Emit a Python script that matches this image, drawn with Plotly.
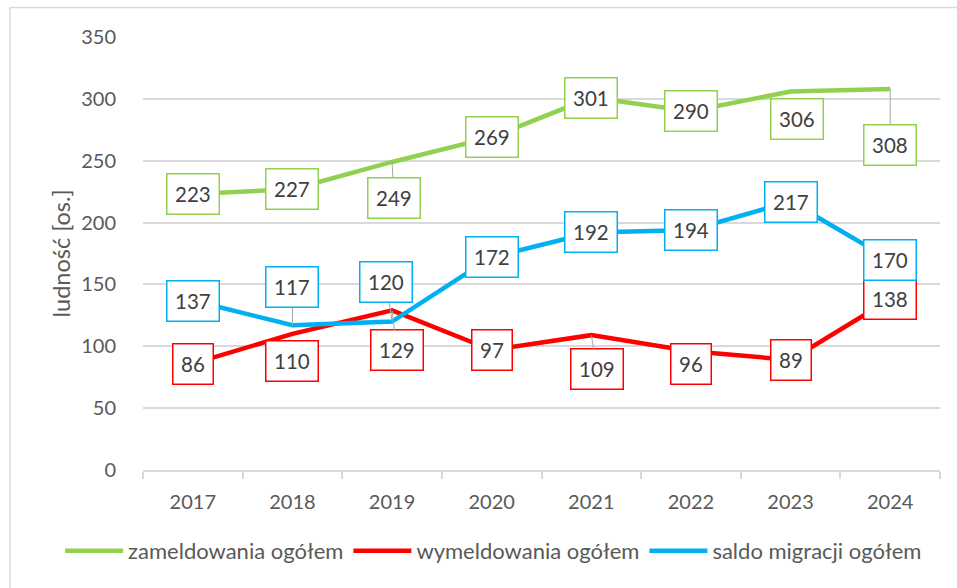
import plotly.graph_objects as go

# ---- data ----
years = ["2017", "2018", "2019", "2020", "2021", "2022", "2023", "2024"]
zameldowania = [223, 227, 249, 269, 301, 290, 306, 308]
wymeldowania = [86, 110, 129, 97, 109, 96, 89, 138]
saldo = [137, 117, 120, 172, 192, 194, 217, 170]
series_names = ["zameldowania ogółem", "wymeldowania ogółem", "saldo migracji ogółem"]
y_ticks = [0, 50, 100, 150, 200, 250, 300, 350]
y_title = "ludność [os.]"

# ---- styling / label placement (pixels, relative to the point) ----
colors = ["#92D050", "#FF0000", "#00B0F0"]
FONT = "Lato"
TEXT = "#404040"
AXIS_TEXT = "#595959"
GRID = "#D9D9D9"

# (dx, dy, leader_line)
offsets = [
    [(0, 0, False), (0, 0, False), (2, 36, True), (0, 0, False),
     (0, 0, False), (0, 0, False), (6, 28, False), (0, 56, True)],
    [(0, 0, False), (0, 27, False), (5, 40, True), (0, 0, False),
     (6, 34, True), (0, 13, False), (0, 0, False), (0, 0, False)],
    [(0, 0, False), (0, -38, True), (-6, -40, True), (0, 0, False),
     (0, 0, False), (0, 0, False), (0, 0, False), (0, 0, False)],
]

all_values = [zameldowania, wymeldowania, saldo]

fig = go.Figure()
for name, vals, col in zip(series_names, all_values, colors):
    fig.add_trace(go.Scatter(
        x=years, y=vals, name=name, mode="lines",
        line=dict(color=col, width=4.5),
        hoverinfo="skip",
    ))

for vals, col, offs in zip(all_values, colors, offsets):
    # category axis: annotation x is the category index of each year
    for idx, (v, (dx, dy, arrow)) in enumerate(zip(vals, offs)):
        common = dict(
            x=idx, y=v, xref="x", yref="y", text=str(v),
            font=dict(family=FONT, size=20.5, color=TEXT),
            bgcolor="white", bordercolor=col, borderwidth=1.5, borderpad=7.5,
        )
        if arrow:
            fig.add_annotation(
                **common, showarrow=True, arrowhead=0, arrowwidth=1,
                arrowcolor="#A6A6A6", ax=dx, ay=dy, standoff=0,
            )
        else:
            fig.add_annotation(**common, showarrow=False, xshift=dx, yshift=-dy)

# y-axis title placed beside the tick labels
fig.add_annotation(
    x=-0.1029, y=0.5, xref="paper", yref="paper", text=y_title,
    textangle=-90, showarrow=False, xanchor="center", yanchor="middle",
    font=dict(family=FONT, size=23.5, color=AXIS_TEXT),
)

fig.update_layout(
    width=957, height=588,
    margin=dict(l=143, r=17, t=37, b=118),
    paper_bgcolor="white", plot_bgcolor="white",
    font=dict(family=FONT, size=20, color=AXIS_TEXT),
    showlegend=True,
    legend=dict(
        orientation="h", x=-0.104, xanchor="left", y=-0.187, yanchor="middle",
        font=dict(family=FONT, size=22, color=AXIS_TEXT),
        itemwidth=58, tracegroupgap=0, bgcolor="rgba(0,0,0,0)",
    ),
    shapes=[dict(
        type="rect", xref="paper", yref="paper",
        x0=-0.1669, x1=1.04, y0=-0.32, y1=1.068,
        line=dict(color=GRID, width=1.5), layer="below",
    )],
)

fig.update_xaxes(
    type="category", range=[-0.5, 7.5],
    showline=True, linecolor=GRID, linewidth=1.5,
    ticks="outside", tickson="boundaries", ticklen=7, tickcolor=GRID, tickwidth=1.5,
    showgrid=False, tickfont=dict(family=FONT, size=20, color=AXIS_TEXT),
    ticklabelstandoff=13,
    fixedrange=True,
)
fig.update_yaxes(
    range=[0, 350], tickvals=y_ticks,
    showgrid=True, gridcolor=GRID, gridwidth=1.5,
    zeroline=False, showline=False,
    ticks="outside", ticklen=22, tickcolor="rgba(0,0,0,0)",
    tickfont=dict(family=FONT, size=20, color=AXIS_TEXT),
    fixedrange=True,
)

fig.write_html("out.html", config={"displayModeBar": False},
               post_script="document.body.style.margin='0';")
